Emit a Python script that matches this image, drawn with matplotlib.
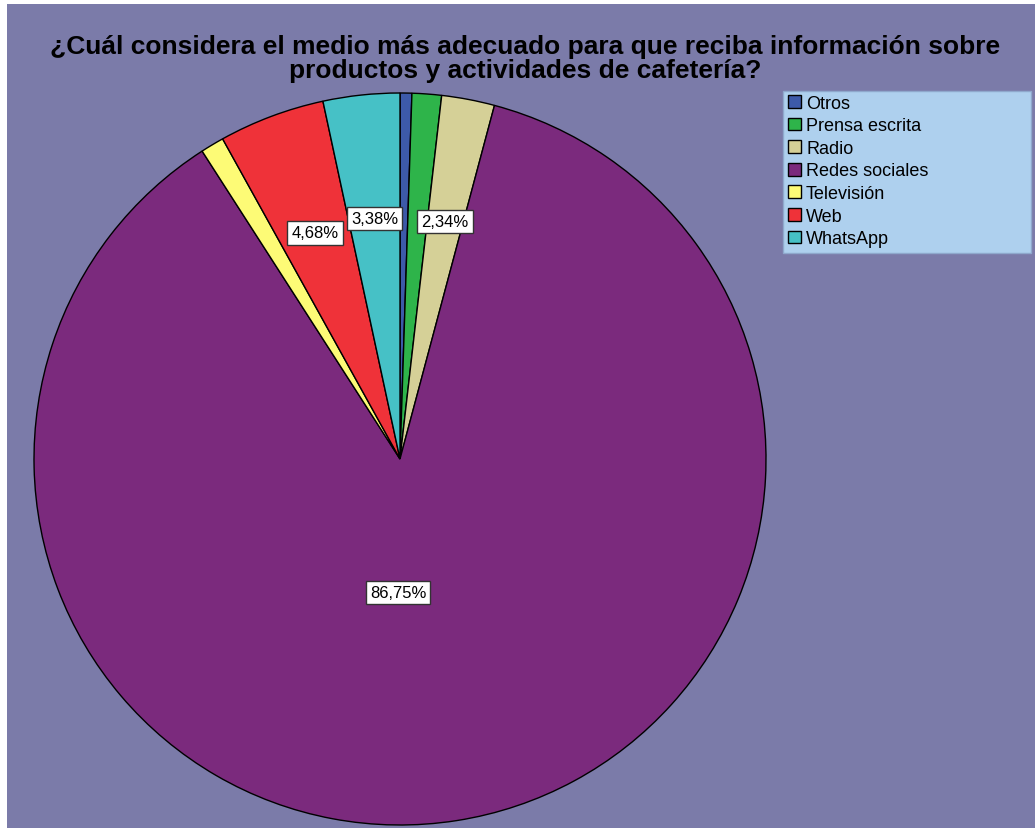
import matplotlib.pyplot as plt
import matplotlib.patches as mpatches
import numpy as np

plt.rcParams['font.family'] = ['Liberation Sans', 'DejaVu Sans']

title = '¿Cuál considera el medio más adecuado para que reciba información sobre\nproductos y actividades de cafetería?'
categories = ['Otros', 'Prensa escrita', 'Radio', 'Redes sociales', 'Televisión', 'Web', 'WhatsApp']
counts = [2, 5, 9, 334, 4, 18, 13]
colors = ['#3d5aa9', '#2eb44a', '#d5d097', '#7b2a7d', '#fdfb76', '#ef3239', '#46c1c6']

bg = '#7b7ba9'
W, H = 1035, 829

fig = plt.figure(figsize=(W / 100, H / 100), dpi=100)
fig.patch.set_facecolor('white')
ax = fig.add_axes([0, 0, 1, 1])
ax.set_xlim(0, W)
ax.set_ylim(0, H)
ax.set_aspect('equal')
ax.axis('off')

# purple panel (small white margin top/left)
ax.add_patch(mpatches.Rectangle((7, 0), W - 7, H - 5, facecolor=bg, edgecolor='none', zorder=0))

cx, cy, r = 400, H - 460, 366
wedges, _ = ax.pie(counts, colors=colors, startangle=90, counterclock=False,
                   center=(cx, cy), radius=r,
                   wedgeprops=dict(edgecolor='black', linewidth=1.0))
ax.set_xlim(0, W)
ax.set_ylim(0, H)

total = sum(counts)
for w, c in zip(wedges, counts):
    pct = c / total * 100
    if pct < 2:
        continue
    mid = np.deg2rad((w.theta1 + w.theta2) / 2)
    if pct > 50:
        x, y = cx - 2, cy - 0.365 * r
    else:
        x = cx + 0.66 * r * np.cos(mid)
        y = cy + 0.66 * r * np.sin(mid)
    ax.text(x, y, f'{pct:.2f}%'.replace('.', ','), ha='center', va='center', fontsize=12,
            color='black', zorder=5,
            bbox=dict(boxstyle='square,pad=0.25', facecolor='white', edgecolor='#333333', linewidth=1))

fig.text(525 / W, 1 - 59 / H, title, ha='center', va='center', fontsize=19,
         fontweight='bold', linespacing=1.0)

# legend box
ax.add_patch(mpatches.Rectangle((783, H - 254), 248, 162, facecolor='#aed0ee',
                                edgecolor='#8fa8cc', linewidth=1, zorder=4))
handles = [mpatches.Patch(facecolor=col, edgecolor='black', linewidth=1) for col in colors]
leg = fig.legend(handles, categories, loc='upper left', bbox_to_anchor=(785 / W, 1 - 93 / H),
                 fontsize=13, frameon=False, handlelength=0.72, handleheight=0.72,
                 handletextpad=0.3, labelspacing=0.31, borderpad=0.15, borderaxespad=0)

fig.savefig('out.png', dpi=100)
